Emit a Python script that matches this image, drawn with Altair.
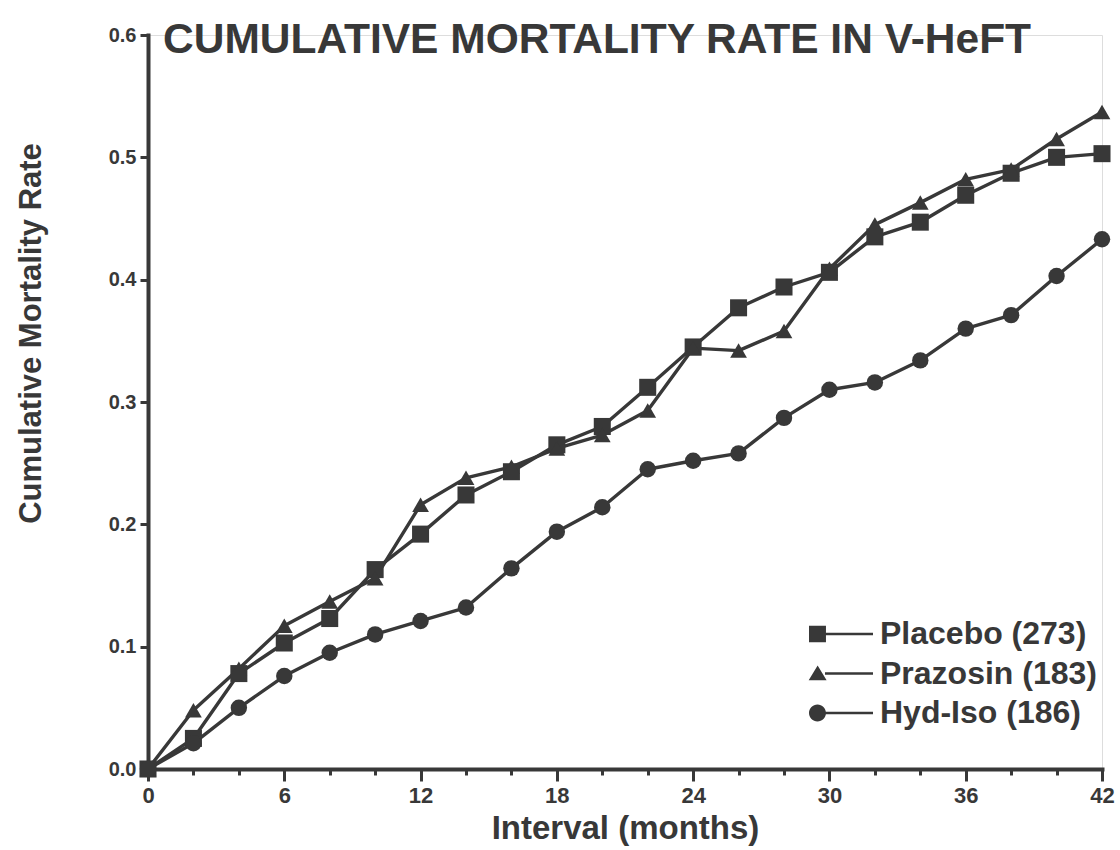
import altair as alt
import pandas as pd

# Cumulative mortality by treatment arm, read every 2 months
months = list(range(0, 43, 2))
placebo = [0.000, 0.025, 0.078, 0.103, 0.123, 0.163, 0.192, 0.224, 0.243, 0.265, 0.280,
           0.312, 0.345, 0.377, 0.394, 0.406, 0.435, 0.447, 0.469, 0.487, 0.500, 0.503]
prazosin = [0.000, 0.048, 0.082, 0.117, 0.137, 0.156, 0.216, 0.238, 0.247, 0.262, 0.273,
            0.293, 0.344, 0.342, 0.358, 0.409, 0.445, 0.463, 0.482, 0.490, 0.515, 0.537]
hyd_iso = [0.000, 0.021, 0.050, 0.076, 0.095, 0.110, 0.121, 0.132, 0.164, 0.194, 0.214,
           0.245, 0.252, 0.258, 0.287, 0.310, 0.316, 0.334, 0.360, 0.371, 0.403, 0.433]

series_names = ["Placebo (273)", "Prazosin (183)", "Hyd-Iso (186)"]
marker_shapes = ["square", "triangle-up", "circle"]
marker_sizes = [290, 270, 220]
y_ticks = [0.0, 0.1, 0.2, 0.3, 0.4, 0.5, 0.6]
x_ticks = list(range(0, 43))
chart_title = "CUMULATIVE MORTALITY RATE IN V-HeFT"

rows = []
for name, vals in zip(series_names, [placebo, prazosin, hyd_iso]):
    for m, v in zip(months, vals):
        rows.append({"month": m, "rate": v, "series": name})
df = pd.DataFrame(rows)

INK = "#383838"
FONT = "Liberation Sans"

# legend keys: marker followed by a short line (drawn as a thin filled bar), in symbol units
tail = " M-1.0,-0.085L2,-0.085L2,0.085L-1.0,0.085Z"
key_square = "M-2,-0.52L-0.94,-0.52L-0.94,0.52L-2,0.52Z" + tail
key_triangle = "M-2.02,0.42L-0.9,0.42L-1.46,-0.5Z" + tail
key_circle = (
    "M-2,0C-2,-0.29 -1.76,-0.53 -1.47,-0.53C-1.18,-0.53 -0.94,-0.29 -0.94,0"
    "C-0.94,0.29 -1.18,0.53 -1.47,0.53C-1.76,0.53 -2,0.29 -2,0Z" + tail
)

x_enc = alt.X(
    "month:Q",
    scale=alt.Scale(domain=[0, 42], nice=False, zero=True),
    axis=alt.Axis(
        values=x_ticks,
        labelExpr="datum.value % 6 === 0 ? datum.label : ''",
        tickSize=alt.condition("datum.value % 6 === 0", alt.value(12), alt.value(6)),
        tickWidth=3,
        tickColor=INK,
        domainWidth=4,
        domainColor=INK,
        domainCap="square",
        labelFont=FONT,
        labelFontSize=22,
        labelFontWeight="bold",
        labelColor=INK,
        labelPadding=4,
        labelFlush=False,
        labelOverlap=False,
        grid=False,
        title="Interval (months)",
        titleFont=FONT,
        titleFontSize=33,
        titleFontWeight="bold",
        titleColor=INK,
        titleX=477,
        titleY=69,
        titleBaseline="alphabetic",
    ),
)

y_enc = alt.Y(
    "rate:Q",
    scale=alt.Scale(domain=[0, 0.6], nice=False),
    axis=alt.Axis(
        values=y_ticks,
        format=".1f",
        tickSize=8,
        tickWidth=3,
        tickColor=INK,
        domainWidth=4,
        domainColor=INK,
        domainCap="square",
        labelFont=FONT,
        labelFontSize=20,
        labelFontWeight="bold",
        labelColor=INK,
        labelPadding=4,
        grid=False,
        title="Cumulative Mortality Rate",
        titleFont=FONT,
        titleFontSize=31,
        titleFontWeight="bold",
        titleColor=INK,
        titleAngle=-90,
        titleX=-108,
        titleY=298,
        titleBaseline="alphabetic",
    ),
)

lines = alt.Chart(df).mark_line(color=INK, strokeJoin="round").encode(
    x=x_enc,
    y=y_enc,
    detail="series:N",
    strokeWidth=alt.StrokeWidth(
        "series:N", scale=alt.Scale(domain=series_names, range=[3.4, 3.4, 2.4]), legend=None
    ),
)

points = alt.Chart(df).mark_point(filled=True, color=INK, opacity=1).encode(
    x="month:Q",
    y="rate:Q",
    shape=alt.Shape(
        "series:N",
        scale=alt.Scale(domain=series_names, range=marker_shapes),
        legend=None,
    ),
    size=alt.Size(
        "series:N", scale=alt.Scale(domain=series_names, range=marker_sizes), legend=None
    ),
)

# legend carrier: draws no marks, entries come from the fixed domain
key = alt.Chart(df).transform_filter("false").mark_point(
    filled=True, color=INK, opacity=1
).encode(
    x="month:Q",
    y="rate:Q",
    shape=alt.Shape(
        "series:N",
        scale=alt.Scale(domain=series_names, range=[key_square, key_triangle, key_circle]),
        legend=alt.Legend(
            title=None,
            orient="none",
            legendX=676,
            legendY=582,
            padding=0,
            symbolSize=1024,
            symbolFillColor=INK,
            symbolOpacity=1,
            labelFont=FONT,
            labelFontSize=32,
            labelFontWeight="bold",
            labelColor=INK,
            labelOffset=22,
            labelLimit=400,
            rowPadding=6.5,
        ),
    ),
)

plot = alt.layer(lines, points, key).resolve_scale(shape="independent")

heading = alt.Chart(pd.DataFrame({"text": [chart_title]})).mark_text(
    font=FONT,
    fontSize=42.5,
    fontWeight="bold",
    color=INK,
    align="left",
    baseline="alphabetic",
).encode(text="text:N", x=alt.value(15), y=alt.value(18))

chart = (
    alt.layer(plot, heading)
    .properties(
        width=954,
        height=734,
        autosize=alt.AutoSizeParams(type="none"),
        padding={"left": 148, "top": 35, "right": 18, "bottom": 81},
    )
    .configure_view(stroke=None)
    .configure(background="white")
)

chart.save("out.html", embed_options={"renderer": "svg", "actions": False})
